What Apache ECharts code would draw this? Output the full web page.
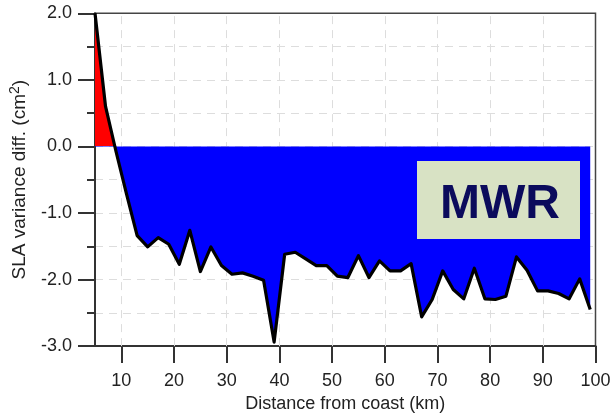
<!DOCTYPE html>
<html>
<head>
<meta charset="utf-8">
<style>
  html, body { margin: 0; padding: 0; background: #ffffff; }
  #chart { width: 614px; height: 418px; }
</style>
<script src="https://cdn.jsdelivr.net/npm/echarts@6/dist/echarts.min.js"></script>
</head>
<body>
<div id="chart"></div>
<script>
// Distance from the coast (km) and the SLA variance difference (cm^2)
const distanceKm = [5, 7, 9, 11, 13, 15, 17, 19, 21, 23, 25, 27, 29, 31, 33, 35, 37, 39, 41, 43,
  45, 47, 49, 51, 53, 55, 57, 59, 61, 63, 65, 67, 69, 71, 73, 75, 77, 79, 81, 83,
  85, 87, 89, 91, 93, 95, 97, 99];
const slaVarDiff = [2.0, 0.6, -0.08, -0.72, -1.34, -1.51, -1.37, -1.47, -1.77, -1.26,
  -1.88, -1.51, -1.79, -1.92, -1.90, -1.95, -2.01, -2.94, -1.62, -1.59,
  -1.69, -1.79, -1.79, -1.95, -1.97, -1.64, -1.97, -1.72, -1.87, -1.87,
  -1.76, -2.56, -2.30, -1.87, -2.15, -2.29, -1.83, -2.29, -2.30, -2.25,
  -1.66, -1.86, -2.17, -2.17, -2.21, -2.29, -1.99, -2.45];
const xTickValues = [10, 20, 30, 40, 50, 60, 70, 80, 90, 100];
const xGridValues = [10, 20, 30, 40, 50, 60, 70, 80, 90];
const boxLabel = 'MWR';

const points = distanceKm.map((d, i) => [d, slaVarDiff[i]]);

const chart = echarts.init(document.getElementById('chart'), null, { renderer: 'canvas' });

const textColor = '#222222';
const axisColor = '#333333';
const gridDash = { color: '#dddddd', type: [8, 6], width: 1 };
const fontFamily = '"Liberation Sans", Arial, sans-serif';

chart.setOption({
  animation: false,
  backgroundColor: '#ffffff',
  grid: {
    left: 93.6, right: 18.5, top: 13.3, bottom: 69.7,
    show: true, borderColor: '#444444', borderWidth: 1.5, backgroundColor: 'transparent'
  },
  visualMap: {
    type: 'piecewise',
    show: false,
    seriesIndex: 0,
    dimension: 1,
    // finite bounds so the area gradient gets real colour stops at zero
    pieces: [
      { gte: -5, lt: 0, color: '#0000ff' },
      { gte: 0, lte: 5, color: '#ff0000' }
    ]
  },
  xAxis: {
    type: 'value',
    min: 5, max: 100,
    name: 'Distance from coast (km)',
    nameLocation: 'middle',
    nameGap: 48,
    nameTextStyle: { fontFamily, fontSize: 18, color: textColor },
    axisLine: { show: true, onZero: false, lineStyle: { color: axisColor, width: 2 } },
    axisTick: { show: true, inside: false, length: 17, customValues: xTickValues,
      lineStyle: { color: axisColor, width: 2 } },
    axisLabel: { customValues: xTickValues, margin: 26, fontFamily, fontSize: 18, color: textColor },
    splitLine: { show: false }
  },
  yAxis: {
    type: 'value',
    min: -3, max: 2, interval: 1,
    name: '{t|SLA variance diff. (cm}{s|2}{t|)}',
    nameLocation: 'middle',
    nameGap: 63,
    nameTextStyle: {
      fontFamily, fontSize: 19, color: textColor,
      rich: {
        t: { fontFamily, fontSize: 19, color: textColor, lineHeight: 24 },
        s: { fontFamily, fontSize: 14, color: textColor, lineHeight: 24, verticalAlign: 'top', padding: [0, 0, 8, 0] }
      }
    },
    axisLine: { show: true, onZero: false, lineStyle: { color: axisColor, width: 2 } },
    axisTick: { show: true, inside: false, length: 17, lineStyle: { color: axisColor, width: 2 } },
    minorTick: { show: true, splitNumber: 2, length: 8, lineStyle: { color: axisColor, width: 2 } },
    axisLabel: { margin: 23, fontFamily, fontSize: 18, color: textColor,
      formatter: v => v.toFixed(1) },
    splitLine: { show: true, showMinLine: false, showMaxLine: false, lineStyle: gridDash },
    minorSplitLine: { show: true, lineStyle: gridDash }
  },
  series: [
    {
      name: 'fill',
      type: 'line',
      data: points,
      symbol: 'none',
      lineStyle: { width: 0 },
      areaStyle: { opacity: 1, origin: 0 },
      z: 2,
      silent: true
    },
    {
      name: 'line',
      type: 'line',
      data: points,
      symbol: 'none',
      lineStyle: { color: '#000000', width: 3.2, join: 'round' },
      z: 3,
      silent: true,
      // vertical dashed grid lines at every 10 km
      markLine: {
        silent: true,
        symbol: 'none',
        label: { show: false },
        lineStyle: gridDash,
        z: 1,
        data: xGridValues.map(v => ({ xAxis: v }))
      }
    }
  ],
  graphic: {
    elements: [
      { type: 'rect', left: 417, top: 161, z: 100,
        shape: { width: 163, height: 78 },
        style: { fill: '#d8e2c4' } },
      { type: 'text', left: 440, top: 181, z: 101,
        style: { text: boxLabel, fill: '#0b0b5c', font: 'bold 48px "Liberation Sans", Arial, sans-serif' } }
    ]
  }
});
</script>
</body>
</html>
